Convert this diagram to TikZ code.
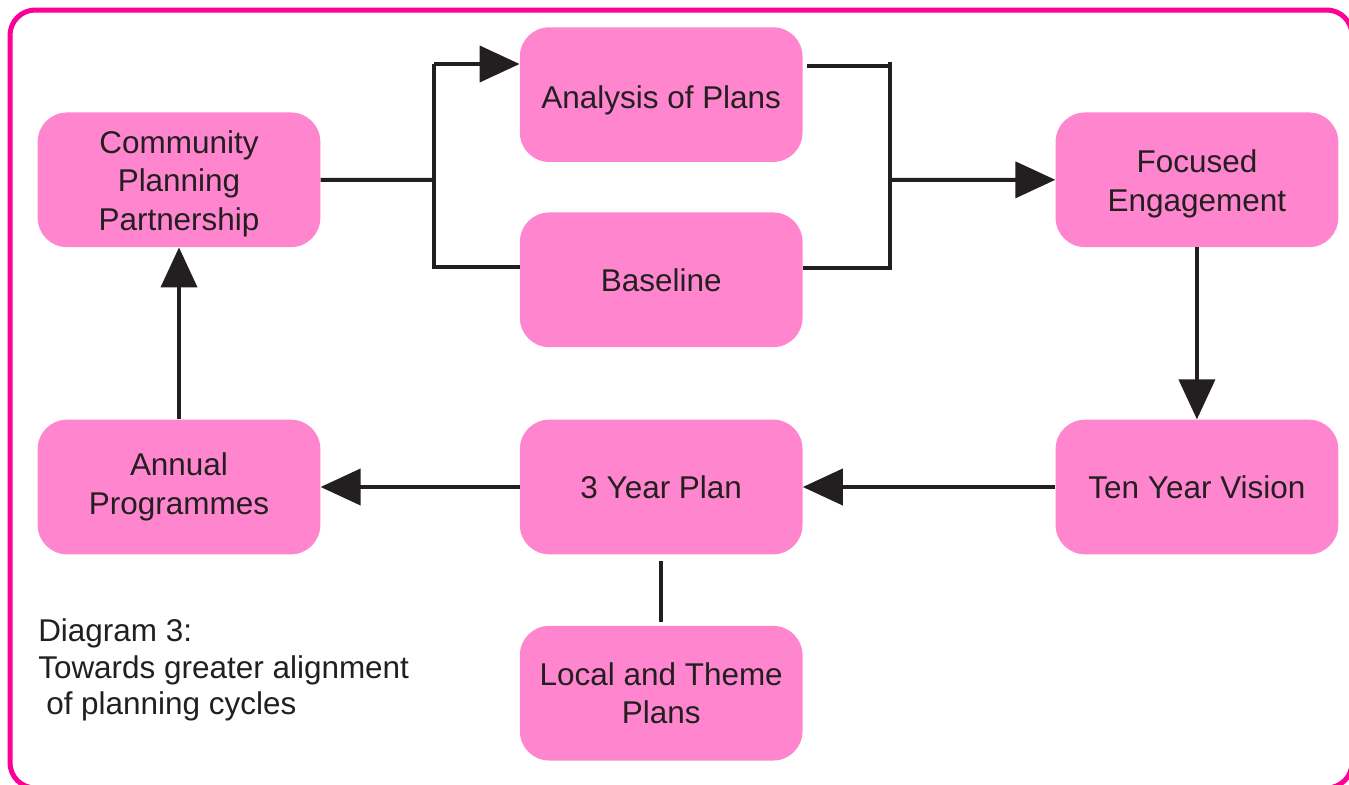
\documentclass[tikz,border=0pt]{standalone}
\usepackage{fontspec}
\setmainfont{Liberation Sans}
\usepackage{tikz}
\usetikzlibrary{positioning, arrows.meta}
\usepackage{color}
\definecolor{framepink}{RGB}{255,0,150}
\definecolor{boxpink}{RGB}{255,133,207}
\definecolor{inkgrey}{RGB}{35,31,32}

\begin{document}
\begin{tikzpicture}[
  box/.style={rectangle, rounded corners=22pt, fill=boxpink, minimum width=212pt,
    minimum height=101pt, inner sep=0pt, align=center, text=inkgrey,
    font=\fontsize{23.6}{29}\selectfont},
  link/.style={draw=inkgrey, line width=3pt},
  arrow/.style={link, -{Triangle[length=30pt,width=27pt]}}
]
  \useasboundingbox (0pt,0pt) rectangle (1011.75pt,-588.75pt);
  \draw[framepink, line width=3.75pt, rounded corners=19pt] (7.5pt,-7.5pt) rectangle (1014pt,-591pt);

  \node[box] (annual) at (134.25pt,-365.25pt) {Annual\\Programmes};
  \node[box, above = 129pt of annual] (cpp) {\rule{0pt}{23pt}Community\\Planning\\Partnership};
  \node[box, right = 149.25pt of annual] (three) {3 Year Plan};
  \node[box, right = 189.4pt of three] (ten) {Ten Year Vision};
  \node[box, above = 129pt of ten] (focus) {\rule{0pt}{23pt}Focused\\Engagement};
  \node[box, above = 54pt of three] (base) {Baseline};
  \node[box, above = 37.5pt of base] (ana) {\rule{0pt}{26pt}Analysis of Plans};
  \node[box, below = 53.25pt of three] (local) {Local and Theme\\Plans};
  \node[anchor=west, align=left, inner sep=0pt, text=inkgrey, font=\fontsize{23.6}{27.5}\selectfont] (caption)
    at (28.5pt,-502.5pt) {Diagram 3:\\Towards greater alignment\\\hspace{6pt}of planning cycles};

  \coordinate (jlm) at (325.5pt,-135pt);
  \coordinate (jlt) at (325.5pt,-48pt);
  \coordinate (jlb) at (325.5pt,-200.25pt);
  \coordinate (jrm) at (667.5pt,-135pt);
  \coordinate (jrt) at (667.5pt,-46.5pt);
  \coordinate (jrb) at (667.5pt,-202.5pt);

  \draw[link] (cpp.east) -- (jlm);
  \draw[link] (jlt) -- (jlb) -- (base.west |- jlb);
  \draw[arrow] (jlt) -- (ana.west |- jlt);
  \draw[link] ([xshift=3pt]ana.east |- 0,-49.5pt) -- (jrt |- 0,-49.5pt);
  \draw[link] (base.east |- 0,-201pt) -- (jrb |- 0,-201pt);
  \draw[link] (jrt) -- (jrb);
  \draw[arrow] (jrm) -- (focus.west);
  \draw[arrow] (focus.south) -- (ten.north);
  \draw[arrow] (ten.west) -- (three.east);
  \draw[arrow] (three.west) -- (annual.east);
  \draw[arrow] (annual.north) -- (cpp.south);
  \draw[link, shorten <=4.5pt, shorten >=3pt] (three.south) -- (local.north);
\end{tikzpicture}
\end{document}
